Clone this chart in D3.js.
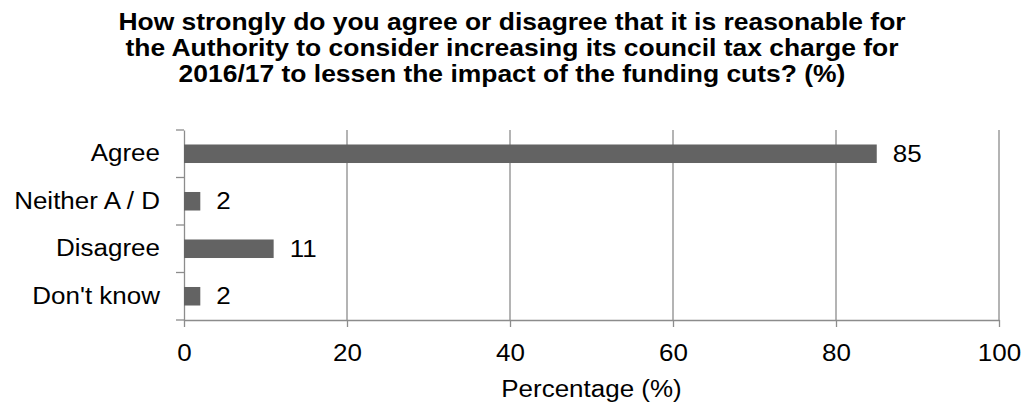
<!DOCTYPE html>
<html><head><meta charset="utf-8">
<script src="https://cdn.jsdelivr.net/npm/d3@7"></script>
<style>body{margin:0;background:#fff}svg{display:block}text{font-family:"Liberation Sans",Arial,sans-serif}</style>
</head><body>
<svg id="c" width="1027" height="407"></svg>
<script>
const categories = ["Agree", "Neither A / D", "Disagree", "Don't know"];
const values = [85, 2, 11, 2];
const xTicks = [0, 20, 40, 60, 80, 100];
const titleLines = ["How strongly do you agree or disagree that it is reasonable for",
  "the Authority to consider increasing its council tax charge for",
  "2016/17 to lessen the impact of the funding cuts? (%)"];
const xTitle = "Percentage (%)";

const W = 1027, H = 407;
const svg = d3.select("#c");
const m = {left:184, right:W-999, top:130, bottom:H-320};
const x = d3.scaleLinear().domain([0,100]).range([m.left, W-m.right]);
const yb = d3.scaleBand().domain(categories).range([m.top, H-m.bottom]);
const y = d3.scaleBand().domain(categories).range([m.top, H-m.bottom]).paddingInner(0.61).paddingOuter(0.305);
const grey = "#8c8c8c";
const FS = 23, SX = 1.13;

function stretch(sel, s) {
  sel.each(function(){
    const t = d3.select(this);
    const x0 = +t.attr("x") || 0;
    t.attr("transform", `translate(${x0*(1-s)},0) scale(${s},1)`);
  });
}

// title
svg.append("g").selectAll("text").data(titleLines).join("text")
  .attr("x", 512).attr("y", (d,i)=>30 + i*26).attr("text-anchor","middle")
  .attr("font-size", FS).attr("font-weight","bold").attr("fill","#000").text(d=>d)
  .call(stretch, 1.15);

// gridlines
svg.append("g").selectAll("line").data(xTicks.filter(t=>t>0)).join("line")
  .attr("x1", d=>x(d)).attr("x2", d=>x(d)).attr("y1", m.top).attr("y2", H-m.bottom)
  .attr("stroke", grey).attr("stroke-width", 1.3);

// x axis
const xa = svg.append("g").attr("transform", `translate(0,${H-m.bottom})`)
  .call(d3.axisBottom(x).tickValues(xTicks).tickSize(7).tickSizeOuter(0).tickPadding(18));
xa.select(".domain").attr("stroke", grey).attr("stroke-width",1.3);
xa.selectAll(".tick line").attr("stroke", grey).attr("stroke-width",1.3);
xa.selectAll(".tick text").attr("font-size", FS).attr("fill","#000")
  .attr("font-family","Liberation Sans, Arial, sans-serif").call(stretch, SX);

// y axis
const ya = svg.append("g").attr("transform", `translate(${m.left},0)`)
  .call(d3.axisLeft(yb).tickSize(0).tickPadding(24));
ya.select(".domain").attr("stroke", grey).attr("stroke-width",1.3);
ya.selectAll(".tick text").attr("font-size", FS).attr("fill","#000")
  .attr("font-family","Liberation Sans, Arial, sans-serif").call(stretch, SX);
// category boundary ticks
const bounds = categories.map(c=>yb(c)).concat([yb(categories[categories.length-1])+yb.bandwidth()]);
svg.append("g").selectAll("line").data(bounds).join("line")
  .attr("x1", m.left-8).attr("x2", m.left).attr("y1", d=>d).attr("y2", d=>d)
  .attr("stroke", grey).attr("stroke-width",1.3);

// bars
svg.append("g").selectAll("rect").data(categories).join("rect")
  .attr("x", x(0)).attr("y", d=>y(d)).attr("width", (d,i)=>x(values[i])-x(0)).attr("height", y.bandwidth())
  .attr("fill", "#636363");

// value labels
svg.append("g").selectAll("text").data(categories).join("text")
  .attr("x", (d,i)=>x(values[i])+16).attr("y", d=>y(d)+y.bandwidth()/2).attr("dy","0.35em")
  .attr("font-size", FS).attr("fill","#000").text((d,i)=>values[i])
  .call(stretch, SX);

// x title
svg.append("text").attr("x", (x(0)+x(100))/2).attr("y", 397).attr("text-anchor","middle")
  .attr("font-size", FS).attr("fill","#000").text(xTitle).call(stretch, SX);
</script>
</body></html>
